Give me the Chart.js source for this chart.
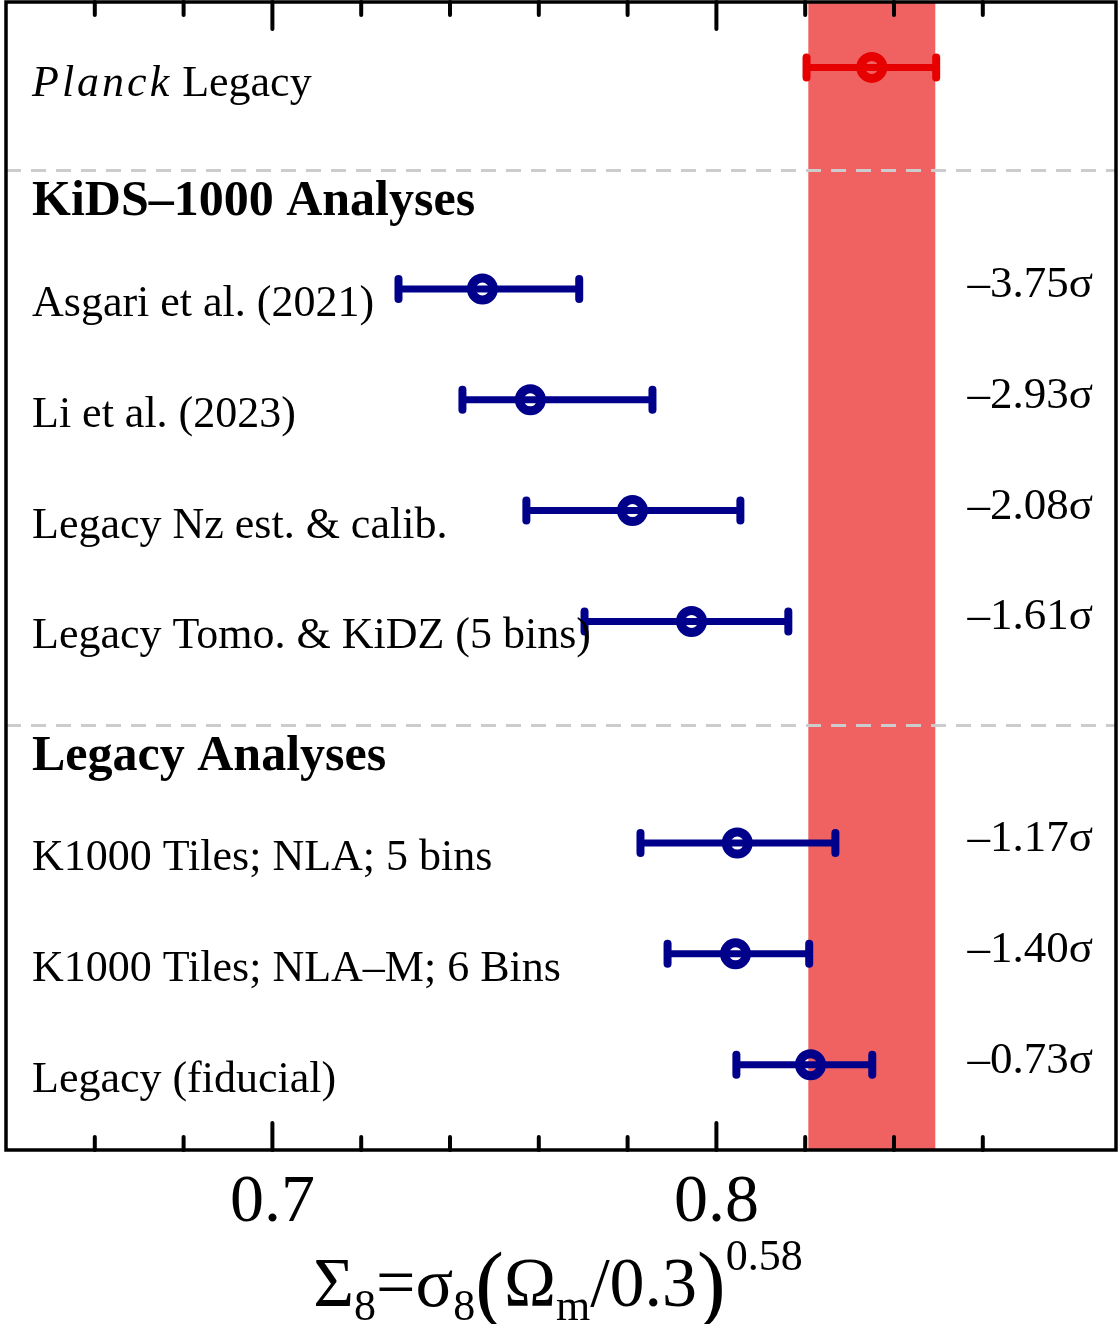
<!DOCTYPE html>
<html>
<head>
<meta charset="utf-8">
<script src="https://cdn.jsdelivr.net/npm/chart.js@4/dist/chart.umd.min.js"></script>
<style>
  body { margin: 0; background: #fff; }
  canvas { display: block; }
</style>
</head>
<body>
<canvas id="c" width="1119" height="1324"></canvas>
<script>
// rows, top to bottom
const rowNames = ["Planck Legacy", "Asgari et al. (2021)", "Li et al. (2023)", "Legacy Nz est. & calib.",
  "Legacy Tomo. & KiDZ (5 bins)", "K1000 Tiles; NLA; 5 bins", "K1000 Tiles; NLA\u2013M; 6 Bins", "Legacy (fiducial)"];
const rowPos = [0, 2, 3, 4, 5, 7, 8, 9];
const s8Mid = [0.835, 0.7473, 0.7581, 0.7811, 0.7944, 0.8047, 0.8043, 0.8212];
const s8Low = [0.8203, 0.7284, 0.7428, 0.7572, 0.7703, 0.7829, 0.7890, 0.8045];
const s8High = [0.8495, 0.7691, 0.7856, 0.8054, 0.8162, 0.8268, 0.8209, 0.8351];
const tension = ["", "\u20133.75\u03c3", "\u20132.93\u03c3", "\u20132.08\u03c3", "\u20131.61\u03c3",
  "\u20131.17\u03c3", "\u20131.40\u03c3", "\u20130.73\u03c3"];
const planckBand = [0.8207, 0.8493];
const groupNames = ["KiDS\u20131000 Analyses", "Legacy Analyses"];
const groupPos = [1.33, 6.34];
const dividerPos = [0.93, 5.94];
const xTicksShown = [0.7, 0.8];

const RED = "#e60000";
const BLUE = "#00008b";
const SERIF = "'Liberation Serif', 'DejaVu Serif', serif";

const isShown = v => xTicksShown.some(t => Math.abs(t - v) < 1e-6);

const forestPlugin = {
  id: "forest",
  beforeDatasetsDraw(chart) {
    const { ctx, chartArea: a, scales: { x, y } } = chart;
    ctx.save();
    // planck band
    ctx.fillStyle = "#f06262";
    const b0 = x.getPixelForValue(planckBand[0]);
    const b1 = x.getPixelForValue(planckBand[1]);
    ctx.fillRect(b0, a.top, b1 - b0, a.bottom - a.top);

    // dashed dividers
    ctx.strokeStyle = "#cccccc";
    ctx.lineWidth = 3;
    ctx.setLineDash([15, 10]);
    dividerPos.forEach(d => {
      const py = y.getPixelForValue(d);
      ctx.beginPath();
      ctx.moveTo(a.left, py);
      ctx.lineTo(a.right, py);
      ctx.stroke();
    });
    ctx.setLineDash([]);

    // error bars
    ctx.lineCap = "round";
    rowPos.forEach((r, i) => {
      const py = y.getPixelForValue(r);
      const l = x.getPixelForValue(s8Low[i]);
      const h = x.getPixelForValue(s8High[i]);
      ctx.strokeStyle = i === 0 ? RED : BLUE;
      ctx.lineWidth = 7;
      ctx.beginPath();
      ctx.moveTo(l, py);
      ctx.lineTo(h, py);
      ctx.stroke();
      ctx.lineWidth = 8;
      [l, h].forEach(px => {
        ctx.beginPath();
        ctx.moveTo(px, py - 10);
        ctx.lineTo(px, py + 10);
        ctx.stroke();
      });
    });
    ctx.restore();
  },
  afterDraw(chart) {
    const { ctx, chartArea: a, scales: { x, y } } = chart;
    ctx.save();

    // inward ticks top and bottom
    ctx.strokeStyle = "#000";
    ctx.lineWidth = 4;
    ctx.lineCap = "round";
    x.ticks.forEach(t => {
      if (t.value <= x.min + 1e-6 || t.value >= x.max - 1e-6) return;
      const px = x.getPixelForValue(t.value);
      const len = isShown(t.value) ? 27 : 13;
      ctx.beginPath();
      ctx.moveTo(px, a.top);
      ctx.lineTo(px, a.top + len);
      ctx.moveTo(px, a.bottom);
      ctx.lineTo(px, a.bottom - len);
      ctx.stroke();
    });

    // frame
    ctx.lineCap = "butt";
    ctx.lineWidth = 3.5;
    ctx.strokeRect(a.left, a.top, a.right - a.left, a.bottom - a.top);

    // row labels
    ctx.fillStyle = "#000";
    ctx.textBaseline = "alphabetic";
    const lx = a.left + 26;
    rowPos.forEach((r, i) => {
      const py = y.getPixelForValue(r);
      ctx.textAlign = "left";
      if (i === 0) {
        const parts = rowNames[0].split(" ");
        ctx.font = "italic 44px " + SERIF;
        ctx.letterSpacing = "3px";
        ctx.fillText(parts[0], lx, py + 29);
        const w = ctx.measureText(parts[0]).width;
        ctx.letterSpacing = "0px";
        ctx.font = "44px " + SERIF;
        ctx.fillText(parts[1], lx + w + 10, py + 29);
      } else {
        ctx.font = "44px " + SERIF;
        ctx.fillText(rowNames[i], lx, py + 27);
      }
      if (tension[i]) {
        ctx.font = "45px " + SERIF;
        ctx.textAlign = "right";
        ctx.fillText(tension[i], 1093, py + 8);
      }
    });

    // group headers
    ctx.textAlign = "left";
    ctx.font = "bold 50px " + SERIF;
    groupNames.forEach((g, i) => {
      ctx.fillText(g, lx, y.getPixelForValue(groupPos[i]));
    });

    // axis title: Sigma_8 = sigma_8 (Omega_m/0.3)^0.58
    const big = "70px " + SERIF, sub = "44px " + SERIF, par = "86px " + SERIF;
    const pieces = [
      ["\u03a3", big, 0], ["8", sub, 14], ["=", big, 0], ["\u03c3", big, 0], ["8", sub, 14],
      ["(", par, 6], ["\u03a9", big, 0], ["m", sub, 14], ["/0.3", big, 0], [")", par, 6], ["0.58", sub, -36]
    ];
    let total = 0;
    pieces.forEach(p => { ctx.font = p[1]; total += ctx.measureText(p[0]).width; });
    let cx = 558 - total / 2;
    const base = 1306;
    pieces.forEach(p => {
      ctx.font = p[1];
      ctx.fillText(p[0], cx, base + p[2]);
      cx += ctx.measureText(p[0]).width;
    });
    ctx.restore();
  }
};

new Chart(document.getElementById("c"), {
  type: "scatter",
  data: {
    datasets: [{
      data: rowPos.map((r, i) => ({ x: s8Mid[i], y: r })),
      pointRadius: 11,
      pointBorderWidth: 9,
      pointBackgroundColor: "rgba(0,0,0,0)",
      pointBorderColor: rowPos.map((r, i) => i === 0 ? RED : BLUE),
      pointHoverRadius: 11
    }]
  },
  options: {
    responsive: false,
    animation: false,
    devicePixelRatio: 1,
    layout: { autoPadding: false, padding: { left: 6, right: 3, top: 2, bottom: 0 } },
    plugins: { legend: { display: false }, tooltip: { enabled: false } },
    scales: {
      x: {
        type: "linear",
        min: 0.64,
        max: 0.89,
        grid: { display: false, drawTicks: false },
        border: { display: false },
        afterFit: s => {
          s.height = 174;
          s.paddingLeft = 0;
          s.paddingRight = 0;
        },
        ticks: {
          stepSize: 0.02,
          autoSkip: false,
          maxRotation: 0,
          padding: 12,
          color: "#000",
          font: { family: SERIF, size: 68 },
          callback: v => isShown(v) ? v.toFixed(1) : ""
        }
      },
      y: {
        type: "linear",
        display: false,
        reverse: true,
        min: -0.59,
        max: 9.77
      }
    }
  },
  plugins: [forestPlugin]
});
</script>
</body>
</html>
